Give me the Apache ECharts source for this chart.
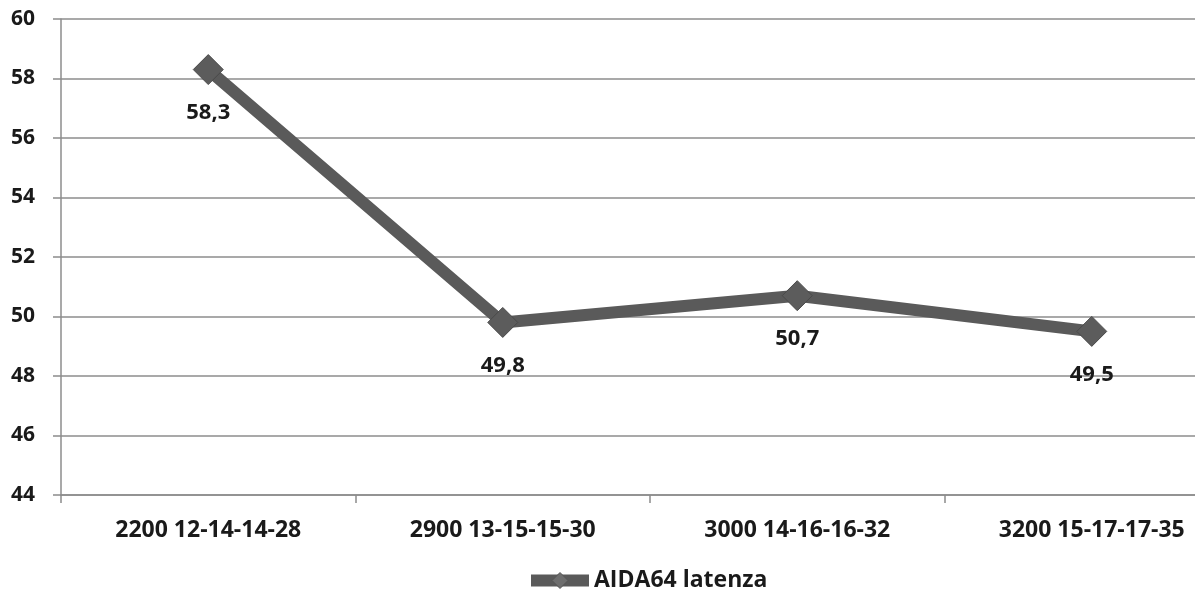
<!DOCTYPE html>
<html>
<head>
<meta charset="utf-8">
<script src="https://cdn.jsdelivr.net/npm/echarts@6/dist/echarts.min.js"></script>
<style>
html,body{margin:0;padding:0;background:#fff;}
#chart{width:1195px;height:599px;}
</style>
</head>
<body>
<div id="chart"></div>
<script>
var categories = ['2200 12-14-14-28', '2900 13-15-15-30', '3000 14-16-16-32', '3200 15-17-17-35'];
var latenza = [58.3, 49.8, 50.7, 49.5];
var seriesName = 'AIDA64 latenza';

var font = '"Open Sans", "Noto Sans", sans-serif';
var myChart = echarts.init(document.getElementById('chart'));

option = {
    animation: false,
    textStyle: { fontFamily: font },
    // la griglia continua oltre il bordo destro, come nell'originale tagliato
    grid: { left: 61, top: 19, bottom: 104, width: 1178, outerBoundsMode: 'none', containLabel: false },
    legend: {
        bottom: 2,
        left: 520,
        data: [seriesName],
        itemWidth: 58,
        itemHeight: 20,
        itemGap: 2,
        lineStyle: { width: 12, color: '#5a5a5a' },
        itemStyle: { color: '#6e6e6e', borderColor: '#555', borderWidth: 1 },
        textStyle: { fontSize: 23, fontWeight: 'bold', color: '#1a1a1a', fontFamily: font }
    },
    xAxis: {
        type: 'category',
        data: categories,
        boundaryGap: true,
        axisLine: { lineStyle: { color: '#8c8c8c', width: 1.5 } },
        axisTick: { show: true, length: 8, lineStyle: { color: '#8c8c8c', width: 1.5 } },
        axisLabel: { margin: 24, fontSize: 23, fontWeight: 'bold', color: '#1a1a1a', fontFamily: font }
    },
    yAxis: {
        type: 'value',
        min: 44,
        max: 60,
        interval: 2,
        axisLine: { show: true, lineStyle: { color: '#8c8c8c', width: 1.5 } },
        axisTick: { show: true, length: 8, lineStyle: { color: '#8c8c8c', width: 1.5 } },
        splitLine: { lineStyle: { color: '#8c8c8c', width: 1.5 } },
        axisLabel: { margin: 26, fontSize: 21, fontWeight: 'bold', color: '#1a1a1a', fontFamily: font }
    },
    series: [{
        name: seriesName,
        type: 'line',
        data: latenza,
        symbol: 'diamond',
        symbolSize: 30,
        lineStyle: { color: '#5a5a5a', width: 12 },
        itemStyle: { color: '#5c5c5c', borderColor: '#4a4a4a', borderWidth: 1 },
        label: {
            show: true,
            position: 'bottom',
            distance: 17,
            fontSize: 22,
            fontWeight: 'bold',
            color: '#1a1a1a',
            fontFamily: font,
            formatter: function (p) { return String(p.value).replace('.', ','); }
        }
    }]
};
myChart.setOption(option, true);
</script>
</body>
</html>
